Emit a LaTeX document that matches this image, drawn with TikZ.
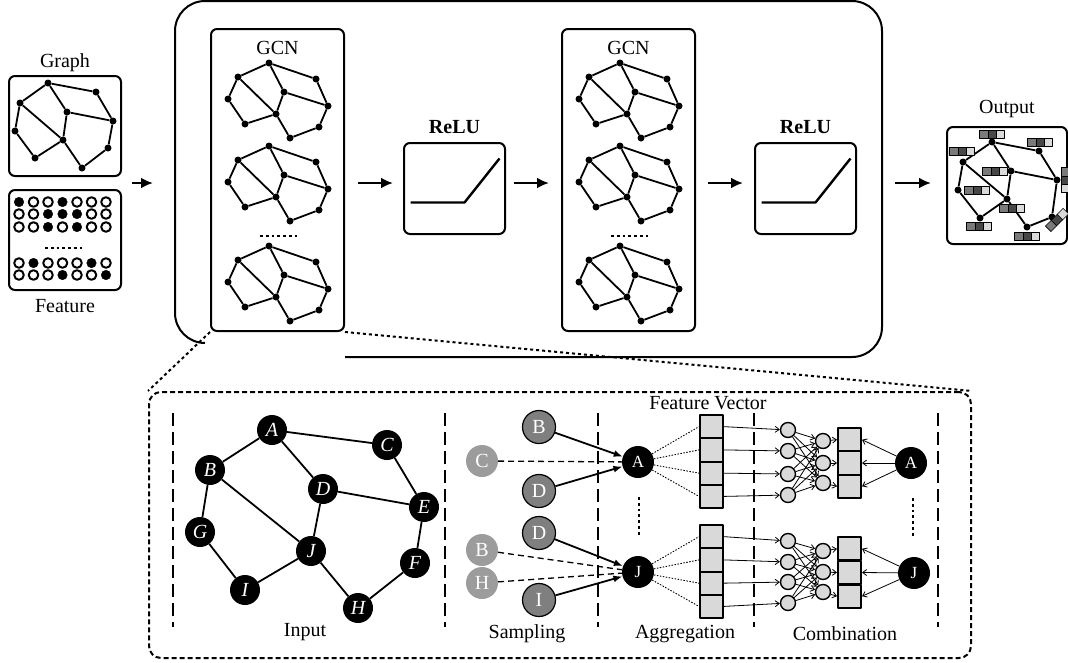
\documentclass[tikz,border=0pt]{standalone}
\usepackage{fontspec}
\setmainfont{Liberation Serif}
\usetikzlibrary{arrows.meta,positioning}

\definecolor{cellgray}{HTML}{D9D9D9}
\definecolor{sampdark}{HTML}{7F7F7F}
\definecolor{samplight}{HTML}{9C9C9C}
\definecolor{vecmid}{HTML}{7A7A7A}
\definecolor{vecdark}{HTML}{474747}
\definecolor{veclight}{HTML}{DADADA}

\tikzset{
  panel/.style={draw, line width=2pt, rounded corners=6pt, inner sep=0pt, anchor=north west},
  dot/.style={circle, fill=black, inner sep=0pt, minimum size=7pt},
  gedge/.style={line width=1.8pt},
  flow/.style={line width=2.6pt, -{Latex[length=12pt,width=11pt]}},
  lbl/.style={font=\fontsize{20}{24}\selectfont},
  lblb/.style={font=\fontsize{20}{24}\selectfont\bfseries},
  reluline/.style={line width=2.4pt},
  dotrow/.style={line width=2.8pt, dash pattern=on 2.8pt off 3pt},
  bit0/.style={line width=2pt, fill=white},
  bit1/.style={fill=black},
  veccell/.style={draw=black, line width=0.6pt},
  vtx/.style={circle, fill=black, text=white, inner sep=0pt, minimum size=30pt, font=\fontsize{20}{20}\selectfont\itshape},
  sampdk/.style={circle, draw=black, line width=1.2pt, fill=sampdark, text=white, inner sep=0pt, minimum size=33pt, font=\fontsize{20}{20}\selectfont},
  samplt/.style={circle, fill=samplight, text=white, inner sep=0pt, minimum size=32pt, font=\fontsize{20}{20}\selectfont},
  aggv/.style={circle, fill=black, text=white, inner sep=0pt, minimum size=32pt, font=\fontsize{17}{18}\selectfont},
  pickarrow/.style={line width=1.8pt, -{Latex[length=9pt,width=7pt]}},
  dashlink/.style={line width=1.3pt, dash pattern=on 6pt off 4pt},
  feed/.style={line width=0.9pt, dash pattern=on 1.5pt off 1.5pt},
  cell/.style={rectangle, draw, fill=cellgray, line width=2pt, inner sep=0pt, minimum width=23pt, minimum height=23.3pt},
  neuron/.style={circle, draw, fill=cellgray, line width=1.4pt, inner sep=0pt, minimum size=15pt},
  wire/.style={line width=0.8pt, -{Straight Barb[length=4pt,width=6pt]}},
  divider/.style={line width=1.6pt, dash pattern=on 13pt off 6pt},
  zoomline/.style={line width=2pt, dash pattern=on 3pt off 3pt},
}

\newcommand{\netedges}{%
  \foreach \a/\b in {A/C,A/B,A/D,C/E,D/E,D/J,B/J,B/G,G/I,I/J,J/H,H/F,F/E}
    \draw[gedge] (\a) -- (\b);}

% small graph inside a GCN panel, placed by vertex A
\newcommand{\gcnnet}[3]{%
  \begin{scope}[shift={(#2,#3)}, name prefix=#1-]
    \foreach \n/\x/\y in {A/0/0,C/47/16,B/-31/14,D/15/29,E/59/43,G/-41/36,J/7/51,F/50/64,I/-24/61,H/21/75}
      \node[dot] (\n) at (\x,\y) {};
    \netedges
  \end{scope}}

% three-cell output vector
\newcommand{\outvec}[3]{%
  \begin{scope}[shift={(#1,#2)}, rotate=#3]
    \filldraw[veccell, fill=vecmid] (-12.5,-3.9) rectangle (-4.2,3.9);
    \filldraw[veccell, fill=vecdark] (-4.2,-3.9) rectangle (4.2,3.9);
    \filldraw[veccell, fill=veclight] (4.2,-3.9) rectangle (12.5,3.9);
  \end{scope}}

\begin{document}
\begin{tikzpicture}[x=1pt, y=-1pt, line join=round]
\useasboundingbox (0,0) rectangle (1068,662);

% inputs
\node[panel, minimum width=112pt, minimum height=100pt] (graphbox) at (8,75) {};
\node[lbl, above=0pt of graphbox] (graphlbl) {Graph};
\begin{scope}[name prefix=gr-]
  \foreach \n/\x/\y in {A/48/83,C/96/92,B/20/103,D/67/112,E/113/121,G/15/131,J/63/140,F/108/148,I/35/158,H/82/168}
    \node[dot] (\n) at (\x,\y) {};
  \netedges
\end{scope}

\node[panel, minimum width=112pt, minimum height=100pt] (featbox) at (8,189) {};
\node[lbl, below=5pt of featbox] (featlbl) {Feature};
\foreach \y/\pat in {202/{1,0,0,1,0,0,0},214/{0,0,1,1,1,0,0},227/{0,0,1,0,1,0,0},263/{0,1,0,0,0,1,0},275/{0,0,0,1,0,0,1}}
  \foreach \v [count=\c] in \pat
    \draw[bit\v] ({19+14.5*(\c-1)},\y) circle (4.8);
\draw[dotrow] (45,248) -- (82,248);

% model (outline left open under the first GCN)
\node[panel, draw=none, minimum width=707pt, minimum height=356pt] (model) at (175,1) {};
\draw[line width=2pt, rounded corners=30pt] (345,357) -- (882,357) -- (882,1) -- (175,1) -- (175,343) -- (205,343);

\node[panel, minimum width=133pt, minimum height=302pt] (gcn1) at (210,28) {};
\node[lbl] (gcn1lbl) at ([yshift=-20pt]gcn1.north) {GCN};
\gcnnet{g1a}{269}{63}
\gcnnet{g1b}{269}{146}
\gcnnet{g1c}{269}{246}
\draw[dotrow] (260,236) -- (297,236);

\node[panel, minimum width=101pt, minimum height=91pt] (relu1) at (403,142) {};
\node[lblb, above=5pt of relu1] (relu1lbl) {ReLU};
\draw[reluline] ([shift={(-44,14)}]relu1.center) -- ([shift={(10,14)}]relu1.center) -- ([shift={(45,-30)}]relu1.center);

\node[panel, minimum width=133pt, minimum height=302pt] (gcn2) at (561,28) {};
\node[lbl] (gcn2lbl) at ([yshift=-20pt]gcn2.north) {GCN};
\gcnnet{g2a}{620}{63}
\gcnnet{g2b}{620}{146}
\gcnnet{g2c}{620}{246}
\draw[dotrow] (611,236) -- (648,236);

\node[panel, minimum width=101pt, minimum height=91pt] (relu2) at (754,142) {};
\node[lblb, above=5pt of relu2] (relu2lbl) {ReLU};
\draw[reluline] ([shift={(-44,14)}]relu2.center) -- ([shift={(10,14)}]relu2.center) -- ([shift={(45,-30)}]relu2.center);

% output
\node[panel, minimum width=120pt, minimum height=117pt] (outbox) at (946,126) {};
\node[lbl, above=5pt of outbox] (outlbl) {Output};
\begin{scope}[name prefix=out-]
  \foreach \n/\x/\y in {A/992/142,C/1039/151,B/963/162,D/1011/171,E/1057/180,G/958/190,J/1007/199,F/1052/217,I/980/218,H/1027/227}
    \node[dot] (\n) at (\x,\y) {};
  \netedges
\end{scope}
\outvec{992}{134}{0}
\outvec{962}{151}{0}
\outvec{1040}{142}{0}
\outvec{995}{171}{0}
\outvec{1065}{180}{-90}
\outvec{977}{190}{0}
\outvec{1012}{208}{0}
\outvec{1057}{220}{45}
\outvec{979}{226}{0}
\outvec{1027}{236}{0}

% top arrows
\coordinate (row) at (0,183);
\draw[flow, shorten <=10pt, shorten >=22pt] (graphbox.east |- row) -- (model.west |- row);
\draw[flow, shorten <=13pt, shorten >=10pt] (gcn1.east |- row) -- (relu1.west |- row);
\draw[flow, shorten <=8pt, shorten >=12pt] (relu1.east |- row) -- (gcn2.west |- row);
\draw[flow, shorten <=12pt, shorten >=11pt] (gcn2.east |- row) -- (relu2.west |- row);
\draw[flow, shorten <=11pt, shorten >=15pt] (model.east |- row) -- (outbox.west |- row);

% zoomed layer
\node[panel, rounded corners=12pt, dash pattern=on 5pt off 3pt, minimum width=822pt, minimum height=266pt] (zoombox) at (148,391) {};
\draw[zoomline] (gcn1.south west) -- (zoombox.north west);
\draw[zoomline] (gcn1.south east) -- (zoombox.north east);

\foreach \x in {173,445,598,754,938}
  \draw[divider] (\x,413) -- (\x,627);

% input graph
\begin{scope}[name prefix=in-]
  \foreach \n/\x/\y in {A/272/430,C/387/445,B/210/470,D/323/489,E/424/507,G/200/532,J/311/551,F/415/563,I/245/590,H/358/608}
    \node[vtx] (\n) at (\x,\y) {\n};
  \netedges
\end{scope}

% sampling
\node[sampdk] (sB1) at (539,427) {B};
\node[samplt] (sC) at (482,461) {C};
\node[sampdk] (sD1) at (539,491) {D};
\node[sampdk] (sD2) at (539,533) {D};
\node[samplt] (sB2) at (482,550) {B};
\node[samplt] (sH) at (482,583) {H};
\node[sampdk] (sI) at (539,600) {I};

\node[aggv] (aggA) at (638,462) {A};
\node[aggv] (aggJ) at (638,572) {J};
\draw[pickarrow] (sB1) -- (aggA);
\draw[pickarrow] (sD1) -- (aggA);
\draw[dashlink] (sC) -- (aggA);
\draw[pickarrow] (sD2) -- (aggJ);
\draw[pickarrow] (sI) -- (aggJ);
\draw[dashlink] (sB2) -- (aggJ);
\draw[dashlink] (sH) -- (aggJ);
\draw[dotrow] (639,497) -- (639,535);

% aggregation
\foreach \i in {1,...,4} {
  \node[cell] (fa\i) at (711.5,{403.4+23.25*\i}) {};
  \node[cell] (fj\i) at (711.5,{513.4+23.25*\i}) {};
  \draw[feed] (aggA) -- (fa\i.west);
  \draw[feed] (aggJ) -- (fj\i.west);
}
\node[lbl] (fvlbl) at (708,403) {Feature Vector};

\foreach \i/\ya/\yj in {1/430/541,2/451/562,3/474/582,4/495/603} {
  \node[neuron] (ha\i) at (788,\ya) {};
  \node[neuron] (hj\i) at (788,\yj) {};
  \draw[wire] (fa\i.east) -- (ha\i);
  \draw[wire] (fj\i.east) -- (hj\i);
}
\foreach \j/\ya/\yj/\ca/\cj in {1/441/551/439.7/548.8,2/463/572/463/572.5,3/483/592/486.3/596.2} {
  \node[neuron] (ka\j) at (823,\ya) {};
  \node[neuron] (kj\j) at (823,\yj) {};
  \node[cell] (ca\j) at (849.5,\ca) {};
  \node[cell] (cj\j) at (849.5,\cj) {};
}
\foreach \i in {1,...,4}
  \foreach \j in {1,2,3} {
    \draw[wire] (ha\i) -- (ka\j);
    \draw[wire] (hj\i) -- (kj\j);
  }

% combination
\node[aggv] (combA) at (911,463) {A};
\node[aggv] (combJ) at (914,573) {J};
\foreach \j in {1,2,3} {
  \draw[wire] (ka\j) -- (ca\j.west);
  \draw[wire] (kj\j) -- (cj\j.west);
  \draw[wire] (combA) -- (ca\j.east);
  \draw[wire] (combJ) -- (cj\j.east);
}
\draw[dotrow] (913,498) -- (913,536);

\node[lbl] (inputlbl) at (305,632) {Input};
\node[lbl] (samplbl) at (527,634) {Sampling};
\node[lbl] (agglbl) at (685,634) {Aggregation};
\node[lbl] (comblbl) at (845,634) {Combination};
\end{tikzpicture}
\end{document}
